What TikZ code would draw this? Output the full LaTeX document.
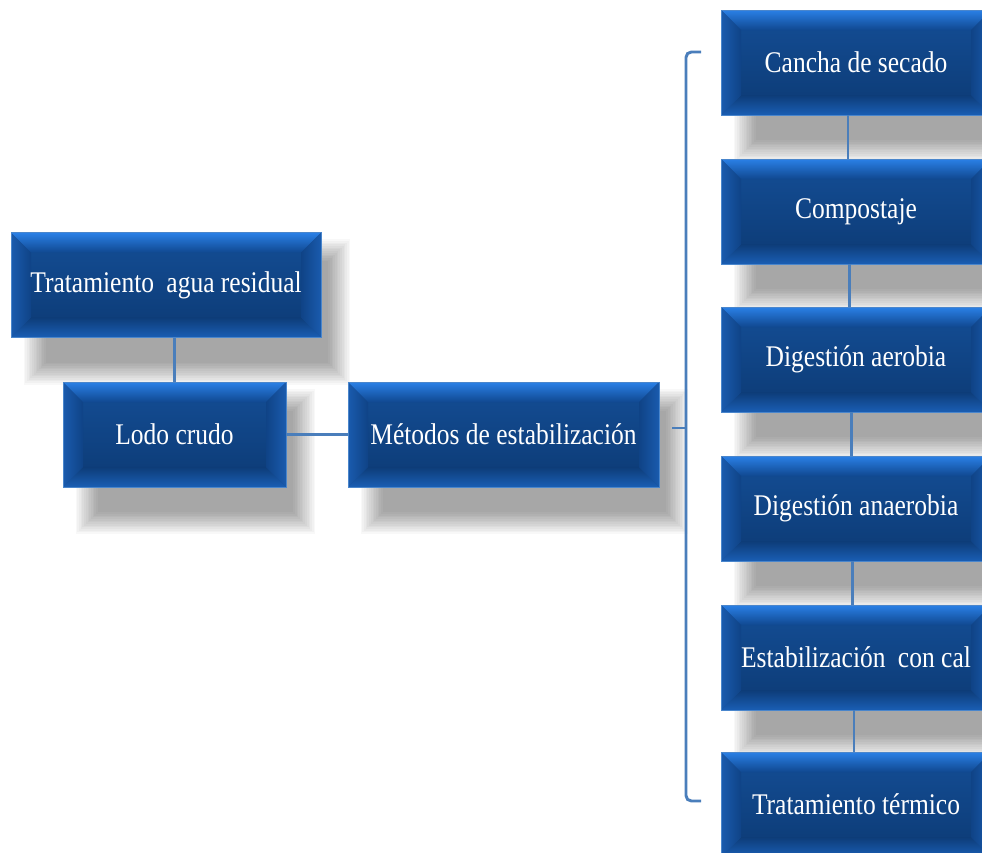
\documentclass[tikz,border=0pt]{standalone}
\usepackage{fontspec}
\newfontfamily\boxfont[FakeStretch=0.85]{Liberation Serif}
\usetikzlibrary{calc,backgrounds}
\definecolor{conncol}{HTML}{4A7EBB}
\definecolor{bbase}{HTML}{154F9A}
\definecolor{btA}{HTML}{2A80E6}
\definecolor{btB}{HTML}{104890}
\definecolor{bbA}{HTML}{0D3C78}
\definecolor{bbB}{HTML}{1A5EB4}
\definecolor{blA}{HTML}{1A5BAE}
\definecolor{blB}{HTML}{0F4386}
\definecolor{biA}{HTML}{144E96}
\definecolor{biB}{HTML}{0C3A74}
\definecolor{bedge}{HTML}{4A86CC}
\tikzset{
  bevelbox/.style={rectangle, inner sep=0pt, fill=bbase, draw=bedge, line width=0.5pt,
    text=white, font={\boxfont\fontsize{22.5pt}{26pt}\selectfont},
    path picture={
      \shade[top color=biA, bottom color=biB]
        ([xshift=15pt,yshift=-15pt]path picture bounding box.north west) rectangle
        ([xshift=-15pt,yshift=15pt]path picture bounding box.south east);
      \shade[top color=btA, bottom color=btB]
        (path picture bounding box.north west) -- (path picture bounding box.north east)
        -- ([xshift=-15pt,yshift=-15pt]path picture bounding box.north east)
        -- ([xshift=15pt,yshift=-15pt]path picture bounding box.north west) -- cycle;
      \shade[top color=bbA, bottom color=bbB]
        (path picture bounding box.south west) -- (path picture bounding box.south east)
        -- ([xshift=-15pt,yshift=15pt]path picture bounding box.south east)
        -- ([xshift=15pt,yshift=15pt]path picture bounding box.south west) -- cycle;
      \shade[left color=blA, right color=blB]
        (path picture bounding box.north west) -- ([xshift=15pt,yshift=-15pt]path picture bounding box.north west)
        -- ([xshift=15pt,yshift=15pt]path picture bounding box.south west)
        -- (path picture bounding box.south west) -- cycle;
      \shade[left color=blB, right color=blA]
        (path picture bounding box.north east) -- ([xshift=-15pt,yshift=-15pt]path picture bounding box.north east)
        -- ([xshift=-15pt,yshift=15pt]path picture bounding box.south east)
        -- (path picture bounding box.south east) -- cycle;
    }},
  leftbox/.style={bevelbox, minimum height=78.5pt},
  rightbox/.style={bevelbox, minimum width=202.5pt, minimum height=78.75pt},
  conn/.style={draw=conncol, line width=2.2pt},
  shadowlayer/.style={fill=black, opacity=0.026},
}
\begin{document}
\begin{tikzpicture}[x=0.75pt, y=-0.75pt]
\useasboundingbox (0,0) rectangle (982,853);
\clip (0,0) rectangle (982,853);

\node[leftbox, minimum width=232.5pt] (T) at (166,285) {Tratamiento\hspace{0.2em} agua residual};
\node[leftbox, minimum width=167.25pt] (L) at (174.5,434.5) {Lodo crudo};
\node[leftbox, minimum width=233.25pt] (M) at (503.5,434.5) {Métodos de estabilización};

\node[rightbox] (R1) at (856,62.5) {Cancha de secado};
\node[rightbox] (R2) at (856,211.5) {Compostaje};
\node[rightbox] (R3) at (856,359.5) {Digestión aerobia};
\node[rightbox] (R4) at (856,508.5) {Digestión anaerobia};
\node[rightbox] (R5) at (856,657.5) {Estabilización\hspace{0.2em} con cal};
\node[rightbox] (R6) at (856,804.5) {Tratamiento térmico};

\begin{scope}[on background layer]
  \fill[white] (0,0) rectangle (982,853);
  \foreach \n in {T,L,M,R1,R2,R3,R4,R5,R6}{
    \foreach \k in {0,...,13}{
      \pgfmathsetmacro\d{-8.25+\k*16.5/13}
      \pgfmathsetmacro\xa{18+\d}
      \pgfmathsetmacro\ya{-13.5-\d}
      \pgfmathsetmacro\xb{13.5-\d}
      \pgfmathsetmacro\yb{-27+\d}
      \fill[shadowlayer] ([xshift=\xa pt, yshift=\ya pt]\n.north west) rectangle ([xshift=\xb pt, yshift=\yb pt]\n.south east);
    }
  }
\end{scope}

\draw[conn] (L.north) -- (L.north |- T.south);
\draw[conn] (L.east) -- (M.west);

\draw[conn] ([xshift=-6pt]R1.south) -- ([xshift=-6pt]R2.north);
\draw[conn] ([xshift=-5pt]R2.south) -- ([xshift=-5pt]R3.north);
\draw[conn] ([xshift=-3.5pt]R3.south) -- ([xshift=-3.5pt]R4.north);
\draw[conn] ([xshift=-2.5pt]R4.south) -- ([xshift=-2.5pt]R5.north);
\draw[conn] ([xshift=-1.5pt]R5.south) -- ([xshift=-1.5pt]R6.north);

\coordinate (bt) at (701,52);
\coordinate (bb) at (701,801);
\coordinate (bm) at (672,428);
\coordinate (bj) at (686,428);
\draw[conn, rounded corners=4pt] (bt) -- (bt -| bj) -- (bb -| bj) -- (bb);
\draw[conn] (bj) -- (bm);
\end{tikzpicture}
\end{document}
